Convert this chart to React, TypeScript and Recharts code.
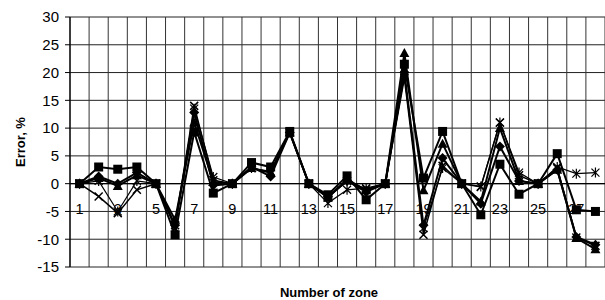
import React from "react";
import { CartesianGrid, Label, Line, LineChart, ReferenceLine, XAxis, YAxis } from "recharts";

// zone numbers along the x axis
const zones = [1, 2, 3, 4, 5, 6, 7, 8, 9, 10, 11, 12, 13, 14, 15, 16, 17, 18, 19, 20, 21, 22, 23, 24, 25, 26, 27, 28];
const zoneLabels = [1, 3, 5, 7, 9, 11, 13, 15, 17, 19, 21, 23, 25, 27];
const zoneEdges = [0.5, 1.5, 2.5, 3.5, 4.5, 5.5, 6.5, 7.5, 8.5, 9.5, 10.5, 11.5, 12.5, 13.5, 14.5, 15.5, 16.5, 17.5, 18.5, 19.5, 20.5, 21.5, 22.5, 23.5, 24.5, 25.5, 26.5, 27.5, 28.5];
const yTicks = [-15, -10, -5, 0, 5, 10, 15, 20, 25, 30];

// error, % per series
const squareErr = [0, 3.0, 2.6, 3.0, 0, -9.2, 9.3, -1.7, 0, 3.8, 3.0, 9.4, 0, -2.0, 1.4, -2.9, 0, 21.5, 1.0, 9.4, 0, -5.6, 3.5, -1.9, 0, 5.4, -4.7, -5.0];
const diamondErr = [0, 1.3, 0, 2.0, 0, -7.5, 12.8, -0.3, 0, 3.0, 1.3, 9.2, 0, -2.3, 0.5, -1.5, 0, 20.0, -7.5, 4.6, 0, -3.6, 6.7, 0.5, 0, 2.5, -9.6, -11.0];
const triangleErr = [0, 1.0, -0.4, 1.5, 0, -6.5, 11.0, 0.3, 0, 2.8, 2.0, 9.2, 0, -2.5, 0.8, -1.2, 0, 23.5, -1.2, 7.2, 0, -3.2, 10.0, 0.5, 0, 2.5, -9.8, -11.8];
const crossErr = [0, -2.3, -5.3, -1.1, 0, -7.5, 14.0, 0.6, 0, 2.8, 2.0, 9.2, 0, -2.5, 0.5, -1.0, 0, 19.0, -9.2, 3.2, 0, -0.6, 11.0, 1.5, 0, 2.8, -9.7, -11.2];
const starErr = [0, 0.5, -5.0, 0.5, 0, -8.0, 13.5, 1.2, 0, 2.8, 2.2, 9.2, 0, -3.5, -1.1, -0.8, 0, 19.5, -8.0, 2.8, 0, -0.5, 11.0, 2.0, 0, 3.0, 1.8, 2.0];

const data = zones.map((zone, i) => ({
  zone,
  square: squareErr[i],
  diamond: diamondErr[i],
  triangle: triangleErr[i],
  cross: crossErr[i],
  star: starErr[i],
}));

const FONT = "Arial, 'Liberation Sans', sans-serif";

const SquareDot = ({ cx, cy, index }: any) => (
  <rect key={`sq-${index}`} x={cx - 4.5} y={cy - 4.5} width={9} height={9} fill="#000" />
);
const DiamondDot = ({ cx, cy, index }: any) => (
  <polygon key={`di-${index}`} points={`${cx},${cy - 5} ${cx + 5},${cy} ${cx},${cy + 5} ${cx - 5},${cy}`} fill="#000" />
);
const TriangleDot = ({ cx, cy, index }: any) => (
  <polygon key={`tr-${index}`} points={`${cx},${cy - 5} ${cx + 5},${cy + 4} ${cx - 5},${cy + 4}`} fill="#000" />
);
const CrossDot = ({ cx, cy, index }: any) => (
  <path key={`cr-${index}`} d={`M${cx - 4},${cy - 4}L${cx + 4},${cy + 4}M${cx - 4},${cy + 4}L${cx + 4},${cy - 4}`} stroke="#000" strokeWidth={1.5} fill="none" />
);
const StarDot = ({ cx, cy, index }: any) => (
  <path key={`st-${index}`} d={`M${cx - 4},${cy - 4}L${cx + 4},${cy + 4}M${cx - 4},${cy + 4}L${cx + 4},${cy - 4}M${cx},${cy - 5}L${cx},${cy + 5}`} stroke="#000" strokeWidth={1.2} fill="none" />
);

// zone numbers sit inside the plot, just under the zero line
const ZoneTick = ({ x, y, payload }: any) => (
  <text x={x} y={y - 53} textAnchor="middle" fontSize={14.5} fontFamily={FONT} fill="#000">
    {payload.value}
  </text>
);

export default function App(): React.ReactElement {
  return (
    <div style={{ position: "absolute", left: 0, top: 0, background: "#fff" }}>
      <LineChart width={605} height={300} data={data} margin={{ top: 17, right: 0, bottom: 0, left: 0 }}>
        <CartesianGrid vertical={false} stroke="#222" strokeWidth={1} />
        {zoneEdges.map((e) => (
          <ReferenceLine key={e} x={e} stroke="#333" strokeWidth={1} />
        ))}
        <ReferenceLine y={0} stroke="#000" strokeWidth={1.2} />
        <XAxis
          dataKey="zone"
          type="number"
          domain={[0.5, 28.5]}
          ticks={zoneLabels}
          interval={0}
          height={33}
          axisLine={false}
          tickLine={false}
          tickSize={0}
          tickMargin={0}
          tick={<ZoneTick />}
        >
          <Label
            content={({ viewBox }: any) => (
              <text
                x={329}
                y={viewBox.y + 30}
                textAnchor="middle"
                fontSize={13}
                fontWeight="bold"
                fontFamily={FONT}
                fill="#000"
              >
                Number of zone
              </text>
            )}
          />
        </XAxis>
        <YAxis
          domain={[-15, 30]}
          ticks={yTicks}
          interval={0}
          width={70}
          axisLine={{ stroke: "#000", strokeWidth: 1.2 }}
          tickLine={{ stroke: "#000" }}
          tickSize={5}
          tickMargin={6}
          tick={{ fontSize: 15, fontFamily: FONT, fill: "#000" }}
        >
          <Label
            content={({ viewBox }: any) => {
              const cx = viewBox.x + 20;
              const cy = viewBox.y + viewBox.height / 2;
              return (
                <text
                  x={cx}
                  y={cy}
                  transform={`rotate(-90 ${cx} ${cy})`}
                  textAnchor="middle"
                  dominantBaseline="central"
                  fontSize={13}
                  fontWeight="bold"
                  fontFamily={FONT}
                  fill="#000"
                >
                  Error, %
                </text>
              );
            }}
          />
        </YAxis>
        <Line dataKey="star" stroke="#000" strokeWidth={1.2} dot={StarDot} isAnimationActive={false} />
        <Line dataKey="cross" stroke="#000" strokeWidth={1.5} dot={CrossDot} isAnimationActive={false} />
        <Line dataKey="diamond" stroke="#000" strokeWidth={2} dot={DiamondDot} isAnimationActive={false} />
        <Line dataKey="triangle" stroke="#000" strokeWidth={2} dot={TriangleDot} isAnimationActive={false} />
        <Line dataKey="square" stroke="#000" strokeWidth={2} dot={SquareDot} isAnimationActive={false} />
      </LineChart>
    </div>
  );
}
